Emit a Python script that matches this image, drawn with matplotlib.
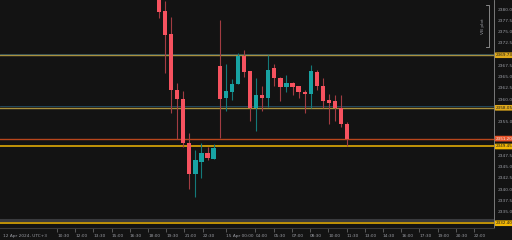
import matplotlib

matplotlib.use("Agg")
import matplotlib.pyplot as plt
import numpy as np

# 30-минутные свечи, 12-15 апреля 2024 (UTC+3)
opens = [2384.7, 2379.5, 2374.4, 2362.1, 2359.9, 2350.3, 2343.4, 2346.1, 2348.1, 2346.7,
         2367.3, 2360.3, 2361.5, 2363.3, 2369.5, 2366.2, 2358.1, 2361.0, 2360.3, 2366.8,
         2364.6, 2362.6, 2363.5, 2362.8, 2361.5, 2361.2, 2365.9, 2363.0, 2359.7, 2359.5,
         2357.9, 2354.5]
highs = [2386.9, 2381.8, 2378.2, 2363.5, 2361.7, 2352.5, 2348.7, 2350.3, 2349.4, 2349.9,
         2377.5, 2367.7, 2364.4, 2370.2, 2370.8, 2366.2, 2364.6, 2362.8, 2369.7, 2367.7,
         2364.8, 2365.3, 2363.7, 2362.8, 2361.9, 2367.5, 2366.4, 2364.6, 2361.2, 2360.8,
         2360.8, 2354.8]
lows = [2378.0, 2365.7, 2356.8, 2351.2, 2349.4, 2340.0, 2338.3, 2342.5, 2346.5, 2346.7,
        2351.4, 2357.4, 2359.7, 2363.3, 2364.8, 2355.2, 2353.0, 2357.4, 2358.3, 2362.8,
        2359.5, 2361.5, 2360.8, 2360.3, 2356.8, 2358.1, 2361.9, 2358.1, 2354.5, 2355.2,
        2353.7, 2349.6]
closes = [2379.3, 2374.2, 2361.9, 2359.9, 2350.3, 2343.4, 2346.5, 2348.1, 2347.0, 2349.2,
          2360.1, 2361.7, 2363.3, 2369.5, 2365.9, 2357.9, 2361.0, 2360.3, 2366.4, 2364.6,
          2362.6, 2363.5, 2362.6, 2361.5, 2361.2, 2366.2, 2363.0, 2359.5, 2359.2, 2358.1,
          2354.5, 2351.2]

# горизонтальные уровни
level_prices = [2369.73, 2358.05, 2351.20, 2349.45, 2332.40]
level_kinds = ["zone", "zone", "orange", "gold", "gold"]

price_ticks = np.arange(2335.0, 2380.1, 2.5)

time_labels = ["10:30", "12:00", "13:30", "15:00", "16:30", "18:00", "19:30", "21:00",
               "22:30", "15 Apr 00:00", "04:00", "05:30", "07:00", "08:30", "10:00",
               "11:30", "13:00", "14:30", "16:00", "17:30", "19:00", "20:30", "22:00"]
time_pos = [-16.8, -13.8, -10.8, -7.8, -4.8, -1.8, 1.2, 4.2, 7.2, 11.0, 15.9, 18.9, 21.9,
            24.9, 27.9, 30.9, 33.9, 36.9, 39.9, 42.9, 45.9, 48.9, 51.9]

BG = "#131313"
TXT = "#9a9ca3"
UP, DOWN = "#18a3a3", "#f6525f"
UP_W, DOWN_W = "#137a7a", "#a23c42"

fig = plt.figure(figsize=(5.12, 2.4), dpi=100, facecolor=BG)
ax = fig.add_axes([0, 12 / 240, 494 / 512, 228 / 240], facecolor=BG)

o, h, l, c = map(np.array, (opens, highs, lows, closes))
x = np.arange(len(o))
up = c >= o
ax.vlines(x[up], l[up], h[up], color=UP_W, lw=0.8, zorder=2)
ax.vlines(x[~up], l[~up], h[~up], color=DOWN_W, lw=0.8, zorder=2)
body = np.maximum(np.abs(c - o), 0.3)
ax.bar(x, body, bottom=np.minimum(o, c), width=0.7,
       color=np.where(up, UP, DOWN), zorder=3, linewidth=0)

for p, kind in zip(level_prices, level_kinds):
    if kind == "zone":
        ax.axhline(p + 0.3, color="#24506a", lw=0.6, zorder=1)
        ax.axhline(p, color="#a8903e", lw=1.0, zorder=1)
        box, fg = "#e0aa1c", "#1a1a1a"
    elif kind == "orange":
        ax.axhline(p, color="#b8461c", lw=1.0, zorder=1)
        box, fg = "#e8542a", "#f0f0f0"
    else:
        ax.axhline(p, color="#f2b705", lw=1.1, zorder=1)
        box, fg = "#f2b705", "#1a1a1a"
    ax.annotate(f"{p:.2f}", xy=(1.0, p), xycoords=("axes fraction", "data"),
                xytext=(1.2, 0), textcoords="offset points", ha="left", va="center",
                fontsize=3.0, color=fg, annotation_clip=False,
                bbox=dict(boxstyle="round,pad=0.2", fc=box, ec="none"))
# серая полоса над нижним уровнем
ax.axhline(level_prices[-1] + 0.8, color="#3a3b3e", lw=2.2, zorder=1)

ax.set_xlim(-26.2, 55.2)
ax.set_ylim(2331.34, 2382.0)

# подписи цены, скрытые под метками уровней
shown = [t for t in price_ticks if min(abs(t - p) for p in level_prices) > 1.6]
ax.set_yticks(shown)
ax.set_yticklabels([f"{t:.1f}" for t in shown])
ax.yaxis.tick_right()
ax.tick_params(axis="y", length=0, pad=2.5, labelsize=3.2, colors=TXT)

ax.set_xticks(time_pos)
ax.set_xticklabels(time_labels)
ax.tick_params(axis="x", length=3, width=0.5, color="#777777", pad=1.5,
               labelsize=3.1, colors=TXT)
for lab in ax.get_xticklabels():
    lab.set_ha("left")

for side in ("top", "left"):
    ax.spines[side].set_visible(False)
ax.spines["right"].set_color("#8a8a8a")
ax.spines["right"].set_linewidth(0.6)
ax.spines["bottom"].set_color("#3a3a3a")
ax.spines["bottom"].set_linewidth(0.8)

fig.text(3 / 512, 4 / 240, "12 Apr 2024, UTC+3", fontsize=3.1, color=TXT,
         ha="left", va="center")

# скобка шкалы справа вверху
ax.plot([0.984, 0.99, 0.99, 0.984], [2381.0, 2381.0, 2371.5, 2371.5],
        transform=ax.get_yaxis_transform(), color="#9a9a9a", lw=0.6, clip_on=False)
ax.text(0.978, 2376.2, "VB plot", transform=ax.get_yaxis_transform(), rotation=90,
        fontsize=3.2, color=TXT, ha="center", va="center")

fig.savefig("out.png", dpi=100, facecolor=BG)
